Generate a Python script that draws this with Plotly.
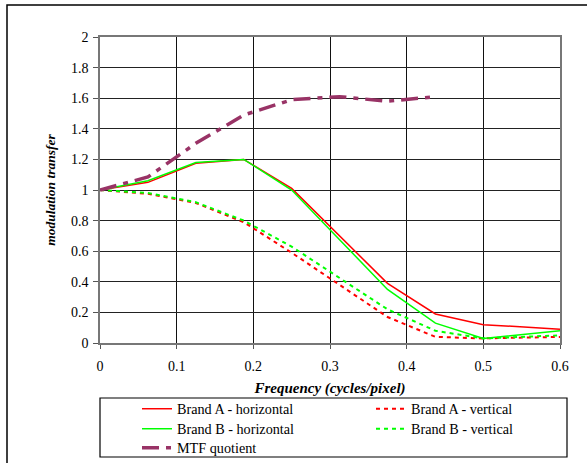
import plotly.graph_objects as go

# Spatial frequency samples (cycles/pixel)
freq_h = [0, 0.0625, 0.125, 0.1875, 0.25, 0.375, 0.4375, 0.5, 0.6]
brand_a_h = [1.0, 1.05, 1.175, 1.20, 1.01, 0.39, 0.19, 0.12, 0.09]
brand_b_h = [1.0, 1.06, 1.18, 1.20, 1.00, 0.35, 0.13, 0.03, 0.08]

freq_v = [0, 0.0625, 0.125, 0.1875, 0.25, 0.375, 0.4375, 0.5, 0.6]
brand_a_v = [1.0, 0.975, 0.915, 0.79, 0.59, 0.17, 0.04, 0.03, 0.04]
brand_b_v = [1.0, 0.98, 0.92, 0.80, 0.63, 0.22, 0.08, 0.03, 0.05]

freq_q = [0, 0.0625, 0.125, 0.1875, 0.25, 0.3125, 0.375, 0.4375]
mtf_quotient = [1.0, 1.085, 1.305, 1.49, 1.59, 1.61, 1.58, 1.61]

x_ticks = [0, 0.1, 0.2, 0.3, 0.4, 0.5, 0.6]
y_ticks = [0, 0.2, 0.4, 0.6, 0.8, 1.0, 1.2, 1.4, 1.6, 1.8, 2.0]

RED = "#FF0000"
GREEN = "#00FF00"
PLUM = "#993366"
SERIF = "Liberation Serif"

# Figure is 587x463; plot area spans x 100..560, y 37..343 (px)
L, R, T, B = 100, 27, 37, 120
W, H = 587, 463
pw, ph = W - L - R, H - T - B


def px_x(p):
    return (p - L) / pw


def px_y(p):
    return (H - B - p) / ph


# (name, x, y, line style, legend left px, legend top px)
series = [
    ("Brand A - horizontal", freq_h, brand_a_h, dict(color=RED, width=1.5), 137, 393),
    ("Brand A - vertical", freq_v, brand_a_v, dict(color=RED, width=2, dash="4px,4px"), 371, 393),
    ("Brand B - horizontal", freq_h, brand_b_h, dict(color=GREEN, width=1.5), 137, 413),
    ("Brand B - vertical", freq_v, brand_b_v, dict(color=GREEN, width=2, dash="4px,4px"), 371, 413),
    ("MTF quotient", freq_q, mtf_quotient,
     dict(color=PLUM, width=3.5, dash="17px,7px,5px,7px"), 137, 432),
]

fig = go.Figure()
legends = {}
for i, (name, xs, ys, line, lx, ly) in enumerate(series):
    key = "legend" if i == 0 else f"legend{i + 1}"
    fig.add_trace(go.Scatter(x=xs, y=ys, mode="lines", name=name, line=line, legend=key))
    legends[key] = dict(
        x=px_x(lx), y=px_y(ly), xanchor="left", yanchor="top",
        xref="paper", yref="paper",
        bgcolor="rgba(0,0,0,0)", borderwidth=0,
        font=dict(family=SERIF, size=14.2, color="black"),
    )

fig.update_layout(
    width=W, height=H,
    margin=dict(l=L, r=R, t=T, b=B, autoexpand=False),
    paper_bgcolor="white", plot_bgcolor="white",
    font=dict(family=SERIF, size=13, color="black"),
    showlegend=True,
    xaxis=dict(
        range=[0, 0.6], tickvals=x_ticks, ticktext=[f"{v:g}" for v in x_ticks],
        showgrid=True, gridcolor="#111", gridwidth=1,
        showline=True, linecolor="#777", linewidth=1.5, mirror=True,
        ticks="outside", ticklen=4, tickcolor="#555",
        ticklabelstandoff=5,
        zeroline=False, fixedrange=True,
        tickfont=dict(family=SERIF, size=14, color="black"),
        title=dict(text="<b><i>Frequency (cycles/pixel)</i></b>",
                   font=dict(family=SERIF, size=15, color="black"), standoff=10),
    ),
    yaxis=dict(
        range=[0, 2], tickvals=y_ticks, ticktext=[f"{v:g}" for v in y_ticks],
        showgrid=True, gridcolor="#222", gridwidth=1,
        showline=True, linecolor="#777", linewidth=1.5, mirror=True,
        ticks="outside", ticklen=5, tickcolor="#555",
        ticklabelstandoff=2,
        zeroline=False, fixedrange=True,
        tickfont=dict(family=SERIF, size=14, color="black"),
        title=dict(text="<b><i>modulation transfer</i></b>",
                   font=dict(family=SERIF, size=13.5, color="black"), standoff=12),
    ),
    shapes=[
        # outer chart frame
        dict(type="rect", xref="paper", yref="paper",
             x0=px_x(7), x1=px_x(600), y0=px_y(480), y1=px_y(5),
             line=dict(color="black", width=1.5), fillcolor="rgba(0,0,0,0)", layer="below"),
        # legend frame
        dict(type="rect", xref="paper", yref="paper",
             x0=px_x(100), x1=px_x(567), y0=px_y(457), y1=px_y(398),
             line=dict(color="black", width=1.2), fillcolor="rgba(0,0,0,0)", layer="above"),
    ],
    **legends,
)

fig.write_html("out.html")
